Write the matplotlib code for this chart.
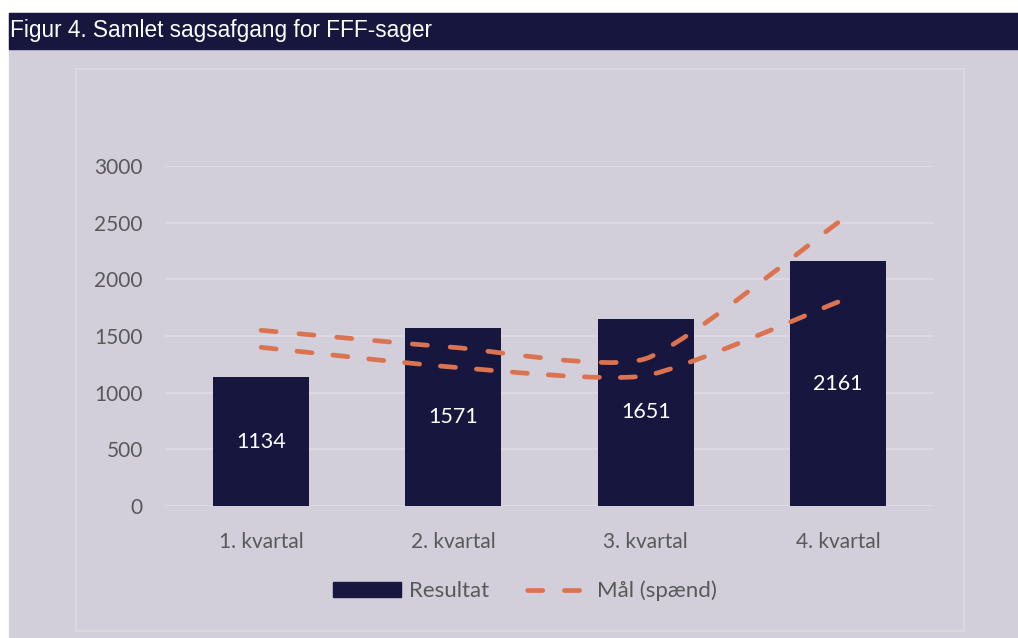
import numpy as np
import matplotlib.pyplot as plt
from matplotlib.patches import Rectangle, Patch, PathPatch
from matplotlib.lines import Line2D
from matplotlib.path import Path

# Data
quarters = ["1. kvartal", "2. kvartal", "3. kvartal", "4. kvartal"]
resultat = [1134, 1571, 1651, 2161]
maal_high = [1550, 1400, 1300, 2500]
maal_low = [1400, 1225, 1150, 1800]

bg = "#d2cfda"
navy = "#16163f"
orange = "#dc7350"
gray = "#595959"
grid_col = "#dfdce4"
LW = 3.4
DASH = (3.2, 4.6)


def smooth_path(xs, ys, k=0.1):
    # smoothed line: cubic Bezier through the points
    pts = list(zip(xs, ys))
    verts = [pts[0]]
    codes = [Path.MOVETO]
    n = len(pts)
    for i in range(n - 1):
        p0 = pts[max(i - 1, 0)]
        p1 = pts[i]
        p2 = pts[i + 1]
        p3 = pts[min(i + 2, n - 1)]
        c1 = (p1[0] + (p2[0] - p0[0]) * k, p1[1] + (p2[1] - p0[1]) * k)
        c2 = (p2[0] - (p3[0] - p1[0]) * k, p2[1] - (p3[1] - p1[1]) * k)
        verts += [c1, c2, p2]
        codes += [Path.CURVE4] * 3
    return Path(verts, codes)


def fitted_dashes(ax, path):
    # stretch the gap a little so the line starts and ends on a dash
    tp = ax.transData.transform_path(path)
    length = 0.0
    for seg, _ in tp.iter_bezier():
        p = seg(np.linspace(0, 1, 60))
        length += np.hypot(*np.diff(p, axis=0).T).sum()
    units = length * 72 / fig.dpi / LW
    n = round((units - DASH[0]) / sum(DASH))
    gap = (units - DASH[0]) / n - DASH[0]
    return (0, (DASH[0], gap))


fig = plt.figure(figsize=(10.18, 6.38), dpi=100)
W, H = 1018, 638

# background, title bar, inner border
fig.patches.append(Rectangle((9 / W, 0), 1 - 9 / W, (H - 13) / H,
                             transform=fig.transFigure, color=bg, zorder=0))
fig.patches.append(Rectangle((9 / W, (H - 49) / H), 1 - 9 / W, 36 / H,
                             transform=fig.transFigure, color=navy, zorder=1))
fig.patches.append(Rectangle((76 / W, (H - 631) / H), 888 / W, 562 / H,
                             transform=fig.transFigure, fill=False,
                             edgecolor="#dbd8df", lw=1.6, zorder=1))
fig.text(10 / W, 1 - 31 / H, "Figur 4. Samlet sagsafgang for FFF-sager",
         color="white", fontsize=16.3, family="Liberation Sans", va="center")

ax = fig.add_axes([165 / W, (H - 506) / H, 769 / W, 340 / H])
ax.set_zorder(3)
ax.set_facecolor("none")
x = list(range(len(quarters)))

ax.set_xlim(-0.5, 3.5)
ax.set_ylim(0, 3000)

bars = ax.bar(x, resultat, width=0.5, color=navy, zorder=2)
for b, v in zip(bars, resultat):
    ax.text(b.get_x() + b.get_width() / 2, v / 2, str(v), color="white",
            ha="center", va="center", fontsize=15.5, family="Lato", zorder=3)

for series in (maal_high, maal_low):
    p = smooth_path(x, series)
    ax.add_patch(PathPatch(p, fill=False, edgecolor=orange, lw=LW,
                           linestyle=fitted_dashes(ax, p),
                           capstyle="round", zorder=4))

ax.set_yticks(range(0, 3001, 500))
ax.set_xticks(x)
ax.set_xticklabels(quarters)
ax.grid(axis="y", color=grid_col, lw=1.2, zorder=1)
ax.set_axisbelow(True)
for s in ax.spines.values():
    s.set_visible(False)
ax.tick_params(length=0, colors=gray, labelsize=15)
ax.tick_params(axis="y", pad=16)
ax.tick_params(axis="x", pad=19)
for lab in ax.get_xticklabels() + ax.get_yticklabels():
    lab.set_family("Lato")

handles = [Patch(facecolor=navy, edgecolor=navy),
           Line2D([], [], color=orange, lw=LW, linestyle=(6.5, DASH),
                  dash_capstyle="round")]
leg = fig.legend(handles, ["Resultat", "Mål (spænd)"], loc="center",
                 bbox_to_anchor=(525 / W, 1 - 591 / H), ncol=2, frameon=False,
                 prop={"family": "Lato", "size": 16}, labelcolor=gray,
                 handlelength=3.05, handletextpad=0.4, columnspacing=1.4)

fig.savefig("out.png", dpi=100, facecolor="white")
